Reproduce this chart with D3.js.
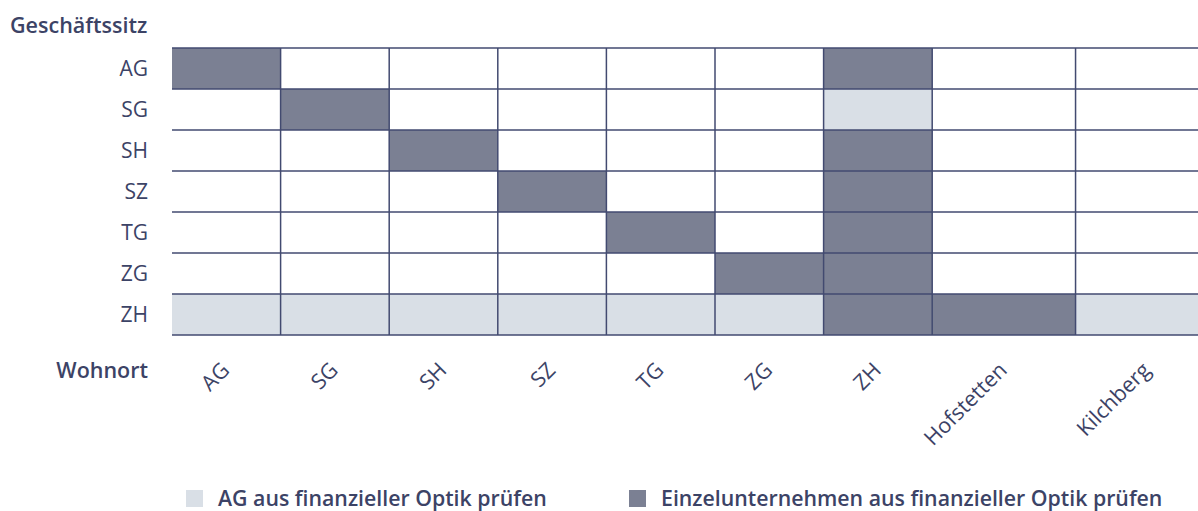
<!DOCTYPE html>
<html>
<head>
<meta charset="utf-8">
<script src="https://cdn.jsdelivr.net/npm/d3@7"></script>
<style>
  html, body { margin: 0; padding: 0; background: #fff; overflow: hidden; }
  svg { display: block; font-family: "Open Sans", sans-serif; }
</style>
</head>
<body>
<svg id="chart"></svg>
<script>
// Spalten (Wohnort) und Zeilen (Geschäftssitz)
const wohnort = ['AG', 'SG', 'SH', 'SZ', 'TG', 'ZG', 'ZH', 'Hofstetten', 'Kilchberg'];
const geschaeftssitz = ['AG', 'SG', 'SH', 'SZ', 'TG', 'ZG', 'ZH'];

// 0 = nichts, 1 = AG prüfen, 2 = Einzelunternehmen prüfen
const matrix = [
  [2, 0, 0, 0, 0, 0, 2, 0, 0], // AG
  [0, 2, 0, 0, 0, 0, 1, 0, 0], // SG
  [0, 0, 2, 0, 0, 0, 2, 0, 0], // SH
  [0, 0, 0, 2, 0, 0, 2, 0, 0], // SZ
  [0, 0, 0, 0, 2, 0, 2, 0, 0], // TG
  [0, 0, 0, 0, 0, 2, 2, 0, 0], // ZG
  [1, 1, 1, 1, 1, 1, 2, 2, 1], // ZH
];

const legendLabels = ['AG aus finanzieller Optik prüfen', 'Einzelunternehmen aus finanzieller Optik prüfen'];
const yTitle = 'Geschäftssitz';
const xTitle = 'Wohnort';

const COLORS = { 0: '#ffffff', 1: '#d9dfe6', 2: '#7b8093' };
const LINE = '#424a70';
const TEXT = '#3c4366';
const FS = 21;

const W = 1198, H = 511;
const svg = d3.select('#chart').attr('width', W).attr('height', H);

// Spaltenbreiten: die beiden Gemeinden sind breiter
const colWeight = wohnort.map(d => d.length > 2 ? 1.32 : 1);
const edges = Array.from(d3.cumsum([0, ...colWeight]));
const gridLeft = 172, unit = 108.6, gridTop = 48, rowH = 41;
const total = edges[edges.length - 1];
const x = d3.scaleLinear().domain([0, total]).range([gridLeft, gridLeft + unit * total]);
const y = d3.scaleBand().domain(geschaeftssitz).range([gridTop, gridTop + rowH * geschaeftssitz.length]);

const cells = [];
matrix.forEach((row, r) => row.forEach((v, c) => cells.push({ r, c, v })));

const g = svg.append('g');

g.selectAll('rect.cell').data(cells).join('rect')
  .attr('class', 'cell')
  .attr('x', d => x(edges[d.c]))
  .attr('y', d => y(geschaeftssitz[d.r]))
  .attr('width', d => x(edges[d.c + 1]) - x(edges[d.c]))
  .attr('height', y.bandwidth())
  .attr('fill', d => COLORS[d.v]);

// horizontale Linien
const hLines = d3.range(geschaeftssitz.length + 1).map(i => gridTop + i * y.step());
g.selectAll('line.h').data(hLines).join('line')
  .attr('class', 'h')
  .attr('x1', gridLeft).attr('x2', x(total))
  .attr('y1', d => d).attr('y2', d => d)
  .attr('stroke', LINE).attr('stroke-width', 1.5);

// vertikale Linien (innen)
g.selectAll('line.v').data(edges.slice(1)).join('line')
  .attr('class', 'v')
  .attr('x1', d => x(d)).attr('x2', d => x(d))
  .attr('y1', gridTop).attr('y2', y.range()[1])
  .attr('stroke', LINE).attr('stroke-width', 1.5);

// y-Beschriftung
g.selectAll('text.ylab').data(geschaeftssitz).join('text')
  .attr('class', 'ylab')
  .attr('x', 148)
  .attr('y', d => y(d) + y.bandwidth() / 2)
  .attr('dy', '0.36em')
  .attr('text-anchor', 'end')
  .attr('fill', TEXT)
  .attr('font-size', FS)
  .text(d => d);

svg.append('text')
  .attr('x', 10).attr('y', 33)
  .attr('fill', TEXT).attr('font-size', 21.5).attr('font-weight', 600)
  .text(yTitle);

svg.append('text')
  .attr('x', 148).attr('y', 378)
  .attr('text-anchor', 'end')
  .attr('fill', TEXT).attr('font-size', 21.5).attr('font-weight', 600)
  .text(xTitle);

// x-Beschriftung, gedreht
g.selectAll('text.xlab').data(wohnort).join('text')
  .attr('class', 'xlab')
  .attr('transform', (d, i) => `translate(${(x(edges[i]) + x(edges[i + 1])) / 2 - 1},${366}) rotate(-45)`)
  .attr('text-anchor', 'end')
  .attr('dy', '0.36em')
  .attr('fill', TEXT)
  .attr('font-size', 21.5)
  .text(d => d);

// Legende
const legendX = [186, 629];
const leg = svg.selectAll('g.legend').data(legendLabels).join('g')
  .attr('class', 'legend')
  .attr('transform', (d, i) => `translate(${legendX[i]},0)`);
leg.append('rect')
  .attr('x', 0).attr('y', 490).attr('width', 17).attr('height', 17)
  .attr('fill', (d, i) => COLORS[i + 1]);
leg.append('text')
  .attr('x', 32).attr('y', 506)
  .attr('fill', TEXT).attr('font-size', 21.3).attr('font-weight', 600)
  .text(d => d);
</script>
</body>
</html>
